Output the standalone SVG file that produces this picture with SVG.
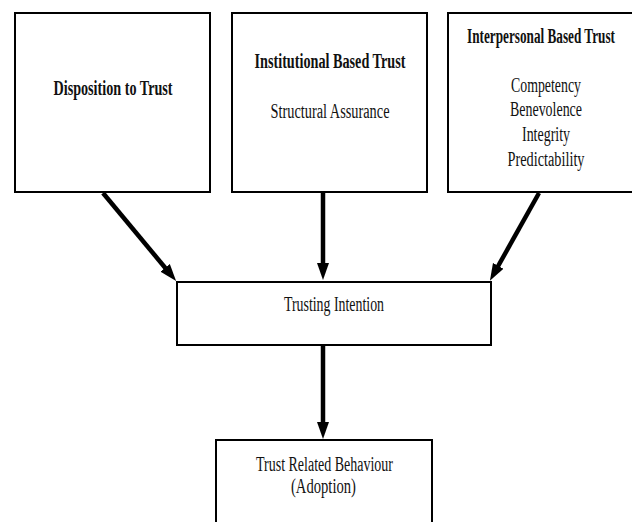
<svg xmlns="http://www.w3.org/2000/svg" width="632" height="522" viewBox="0 0 632 522">
<defs>
<style>
.box{fill:#fff;stroke:#000;stroke-width:2}
.t{font-family:"Liberation Serif","Times New Roman",serif;font-size:20px;fill:#111;text-anchor:middle}
.b{font-weight:bold}
.c{stroke:#000;stroke-width:4.5;fill:none}
</style>
<marker id="ah" markerUnits="userSpaceOnUse" markerWidth="17" markerHeight="13" viewBox="0 0 17 13" refX="7" refY="6.5" orient="auto">
<path d="M0,0.5 L17,6.5 L0,12.5 z" fill="#000"/>
</marker>
</defs>
<rect width="632" height="522" fill="#fff"/>
<g id="disposition">
<rect class="box" x="15" y="13" width="195" height="179"/>
<text class="t b" x="113" y="95" textLength="119" lengthAdjust="spacingAndGlyphs">Disposition to Trust</text>
</g>
<g id="institutional">
<rect class="box" x="232" y="13" width="195" height="179"/>
<text class="t b" x="330" y="68" textLength="151" lengthAdjust="spacingAndGlyphs">Institutional Based Trust</text>
<text class="t" x="330" y="118" textLength="119" lengthAdjust="spacingAndGlyphs">Structural Assurance</text>
</g>
<g id="interpersonal">
<rect class="box" x="448" y="13" width="186" height="179"/>
<text class="t b" transform="translate(541,43) scale(0.65,1)" x="0" y="0" textLength="227.7" lengthAdjust="spacingAndGlyphs">Interpersonal Based Trust</text>
<text class="t" x="546" y="92" textLength="70" lengthAdjust="spacingAndGlyphs">Competency</text>
<text class="t" x="546" y="116" textLength="72" lengthAdjust="spacingAndGlyphs">Benevolence</text>
<text class="t" x="546" y="141" textLength="48" lengthAdjust="spacingAndGlyphs">Integrity</text>
<text class="t" x="546" y="166" textLength="77" lengthAdjust="spacingAndGlyphs">Predictability</text>
</g>
<g id="intention">
<rect class="box" x="177" y="282" width="314" height="63"/>
<text class="t" x="334" y="311" textLength="100" lengthAdjust="spacingAndGlyphs">Trusting Intention</text>
</g>
<g id="behaviour">
<rect class="box" x="216" y="440" width="216" height="100"/>
<text class="t" x="324.5" y="471" textLength="137" lengthAdjust="spacingAndGlyphs">Trust Related Behaviour</text>
<text class="t" x="323.5" y="493" textLength="65" lengthAdjust="spacingAndGlyphs">(Adoption)</text>
</g>
<g id="connectors">
<line class="c" x1="103" y1="193" x2="169.7" y2="273.2" marker-end="url(#ah)"/>
<line class="c" x1="323" y1="193" x2="323" y2="270" marker-end="url(#ah)"/>
<line class="c" x1="539" y1="193" x2="494.8" y2="272" marker-end="url(#ah)"/>
<line class="c" x1="323" y1="346" x2="323" y2="429" marker-end="url(#ah)"/>
</g>
</svg>
